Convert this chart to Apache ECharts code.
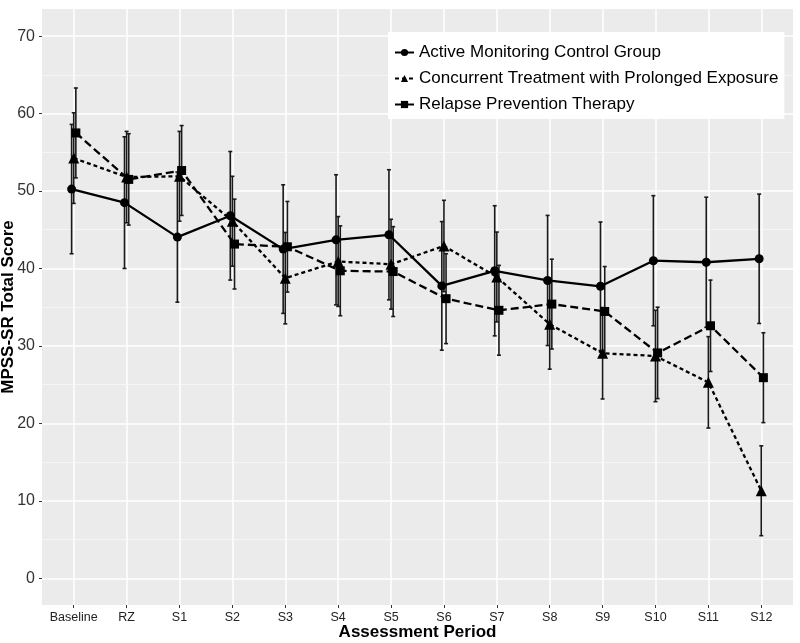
<!DOCTYPE html>
<html>
<head>
<meta charset="utf-8">
<script src="https://cdn.jsdelivr.net/npm/echarts@6/dist/echarts.min.js"></script>
<style>
html,body{margin:0;padding:0;background:#fff;}
#chart{width:800px;height:643px;}
</style>
</head>
<body>
<div id="chart"></div>
<script>
// ---- data ----
var categories = ['Baseline','RZ','S1','S2','S3','S4','S5','S6','S7','S8','S9','S10','S11','S12'];
var seriesNames = ['Active Monitoring Control Group','Concurrent Treatment with Prolonged Exposure','Relapse Prevention Therapy'];
var activeMean = [50.25, 48.5, 44.05, 46.8, 42.5, 43.7, 44.35, 37.75, 39.7, 38.45, 37.7, 41.0, 40.8, 41.25];
var activeErr  = [8.35, 8.5, 8.4, 8.3, 8.3, 8.4, 8.4, 8.3, 8.4, 8.4, 8.3, 8.4, 8.4, 8.35];
var concurrentMean = [54.25, 51.8, 51.9, 46.1, 38.75, 40.9, 40.55, 42.9, 38.9, 32.8, 29.05, 28.7, 25.3, 11.3];
var concurrentErr  = [5.85, 5.9, 5.8, 5.8, 5.9, 5.8, 5.8, 5.9, 5.8, 5.8, 5.9, 5.9, 5.9, 5.8];
var relapseMean = [57.5, 51.5, 52.65, 43.15, 42.8, 39.7, 39.6, 36.1, 34.6, 35.4, 34.45, 29.1, 32.6, 25.9];
var relapseErr  = [5.8, 5.9, 5.8, 5.8, 5.85, 5.8, 5.8, 5.8, 5.8, 5.8, 5.8, 5.9, 5.9, 5.8];
var yTicks = [0, 10, 20, 30, 40, 50, 60, 70];
var yMinor = [5, 15, 25, 35, 45, 55, 65];

// ---- chart ----
var groups = [
  {name: seriesNames[0], mean: activeMean, err: activeErr, dodge: -0.04, symbol: 'circle', size: 9, dash: 'solid'},
  {name: seriesNames[1], mean: concurrentMean, err: concurrentErr, dodge: 0, symbol: 'triangle', size: 11, dash: [4, 3]},
  {name: seriesNames[2], mean: relapseMean, err: relapseErr, dodge: 0.04, symbol: 'rect', size: 9, dash: [8, 4]}
];
var xIdx = categories.map(function (c, i) { return i; });

var series = [];
// minor gridlines
series.push({
  type: 'line', name: 'minor', data: [], z: 1, silent: true,
  markLine: {
    z: 1, silent: true, symbol: ['none', 'none'], label: {show: false},
    lineStyle: {color: '#f7f7f7', width: 0.8, type: 'solid'},
    emphasis: {disabled: true},
    data: yMinor.map(function (v) { return {yAxis: v}; })
  }
});
groups.forEach(function (g) {
  series.push({
    type: 'custom', name: g.name + ' err', z: 3, silent: true,
    data: g.mean.map(function (m, i) { return [i + g.dodge, m - g.err[i], m + g.err[i]]; }),
    encode: {x: 0, y: [1, 2]},
    renderItem: function (params, api) {
      var x = api.value(0);
      var lo = api.coord([x, api.value(1)]);
      var hi = api.coord([x, api.value(2)]);
      var cw = 2;
      var st = {stroke: '#1a1a1a', lineWidth: 1.6};
      return {type: 'group', children: [
        {type: 'line', shape: {x1: lo[0], y1: lo[1], x2: hi[0], y2: hi[1]}, style: st},
        {type: 'line', shape: {x1: lo[0] - cw, y1: lo[1], x2: lo[0] + cw, y2: lo[1]}, style: st},
        {type: 'line', shape: {x1: hi[0] - cw, y1: hi[1], x2: hi[0] + cw, y2: hi[1]}, style: st}
      ]};
    }
  });
});
groups.forEach(function (g) {
  series.push({
    type: 'line', name: g.name, z: 4,
    data: g.mean.map(function (m, i) { return [i + g.dodge, m]; }),
    symbol: g.symbol, symbolSize: g.size, showAllSymbol: true,
    itemStyle: {color: '#000'},
    lineStyle: {color: '#000', width: 2.3, type: g.dash},
    emphasis: {disabled: true}
  });
});

var chart = echarts.init(document.getElementById('chart'), null, {renderer: 'canvas'});
chart.setOption({
  animation: false,
  backgroundColor: '#ffffff',
  textStyle: {fontFamily: 'Liberation Sans, Arial, sans-serif'},
  grid: {left: 42, right: 7, top: 9, bottom: 38, show: true, backgroundColor: '#EBEBEB', borderWidth: 0,
    containLabel: false, outerBoundsMode: 'none'},
  legend: {
    data: seriesNames, z: 10,
    orient: 'vertical', left: 388, top: 32,
    backgroundColor: '#ffffff', padding: [12, 6, 6, 6],
    itemGap: 9, itemWidth: 19, itemHeight: 9,
    textStyle: {fontSize: 17, color: '#000', fontFamily: 'Liberation Sans, Arial, sans-serif'},
    selectedMode: false
  },
  xAxis: {
    type: 'value', min: -0.6, max: 13.6,
    name: 'Assessment Period', nameLocation: 'middle', nameGap: 19, nameMoveOverlap: false,
    nameTextStyle: {fontSize: 17, fontWeight: 'bold', color: '#000'},
    axisLine: {show: false, onZero: false},
    axisTick: {show: true, length: 3, lineStyle: {color: '#333'}, customValues: xIdx},
    axisLabel: {customValues: xIdx, fontSize: 12.5, color: '#222', margin: 6,
      formatter: function (v) { return categories[Math.round(v)] || ''; }},
    splitLine: {show: true, lineStyle: {color: '#ffffff', width: 1.5}}
  },
  yAxis: {
    type: 'value', min: -3.45, max: 73.5,
    name: 'MPSS-SR Total Score', nameLocation: 'middle', nameGap: 25, nameRotate: 90, nameMoveOverlap: false,
    nameTextStyle: {fontSize: 17, fontWeight: 'bold', color: '#000'},
    axisLine: {show: false, onZero: false},
    axisTick: {show: true, length: 3, lineStyle: {color: '#333'}, customValues: yTicks},
    axisLabel: {customValues: yTicks, fontSize: 16, color: '#333', margin: 7},
    splitLine: {show: true, lineStyle: {color: '#ffffff', width: 1.5}}
  },
  series: series
});
</script>
</body>
</html>
